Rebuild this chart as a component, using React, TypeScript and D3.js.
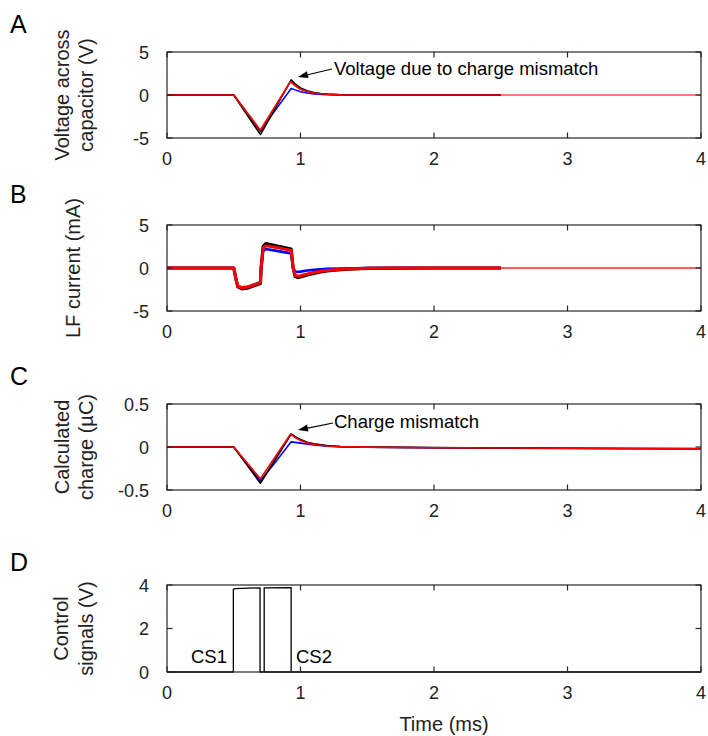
import React from 'react';
import * as d3 from 'd3';

type Pt = [number, number];

// Shared time axis (ms)
const timeTicks = [0, 1, 2, 3, 4];

// A: voltage across capacitor (V)
const voltageTicks = [-5, 0, 5];
const voltageBlack: Pt[] = [[0, 0], [0.5, 0], [0.7, -4.6], [0.93, 1.75], [0.96, 1.3], [1.0, 0.82], [1.05, 0.5], [1.1, 0.3], [1.15, 0.18], [1.2, 0.1], [1.3, 0.03], [1.5, 0], [2.5, 0]];
const voltageBlue: Pt[] = [[0, 0], [0.5, 0], [0.7, -4.25], [0.8, -2.0], [0.93, 0.75], [0.96, 0.6], [1.0, 0.38], [1.05, 0.22], [1.1, 0.12], [1.2, 0.04], [1.3, 0.01], [1.5, 0], [2.5, 0]];
const voltageRed: Pt[] = [[0, 0], [0.5, 0], [0.7, -4.1], [0.925, 1.55], [0.96, 1.1], [1.0, 0.66], [1.05, 0.4], [1.1, 0.24], [1.15, 0.14], [1.2, 0.08], [1.3, 0.02], [1.5, 0], [2.5, 0]];
const voltageRedLong: Pt[] = [...voltageRed, [4, 0]];

// B: LF current (mA)
const currentTicks = [-5, 0, 5];
const currentBlack: Pt[] = [[0, 0], [0.5, 0], [0.515, -1.2], [0.53, -2.2], [0.56, -2.42], [0.6, -2.35], [0.7, -1.8], [0.705, 0], [0.72, 2.5], [0.74, 2.85], [0.8, 2.65], [0.93, 2.2], [0.945, 0], [0.96, -1.0], [0.98, -1.12], [1.0, -1.05], [1.05, -0.82], [1.1, -0.62], [1.15, -0.47], [1.2, -0.35], [1.3, -0.19], [1.4, -0.1], [1.5, -0.05], [1.7, -0.01], [2.0, 0], [2.5, 0]];
const currentBlue: Pt[] = [[0, 0], [0.5, 0], [0.515, -1.1], [0.53, -2.05], [0.56, -2.25], [0.6, -2.2], [0.7, -1.65], [0.705, 0], [0.72, 2.0], [0.74, 2.2], [0.8, 2.05], [0.93, 1.7], [0.945, 0], [0.96, -0.4], [0.98, -0.45], [1.0, -0.42], [1.05, -0.3], [1.1, -0.22], [1.15, -0.15], [1.2, -0.1], [1.3, -0.05], [1.5, -0.01], [2.0, 0], [2.5, 0]];
const currentRed: Pt[] = [[0, 0], [0.5, 0], [0.515, -1.15], [0.53, -2.1], [0.56, -2.3], [0.6, -2.25], [0.7, -1.7], [0.705, 0], [0.72, 2.3], [0.74, 2.6], [0.8, 2.45], [0.93, 2.05], [0.945, 0], [0.96, -0.85], [0.98, -0.95], [1.0, -0.9], [1.05, -0.7], [1.1, -0.52], [1.15, -0.39], [1.2, -0.29], [1.3, -0.15], [1.4, -0.08], [1.5, -0.04], [1.7, -0.01], [2.0, 0], [2.5, 0]];
const currentRedLong: Pt[] = [...currentRed, [4, 0]];

// C: calculated charge (µC)
const chargeTicks = [-0.5, 0, 0.5];
const chargeBlack: Pt[] = [[0, 0], [0.5, 0], [0.7, -0.42], [0.93, 0.15], [0.96, 0.12], [1.0, 0.085], [1.05, 0.055], [1.1, 0.035], [1.2, 0.015], [1.3, 0.005], [1.5, -0.002], [2.0, -0.008], [2.5, -0.012], [3.0, -0.015], [3.5, -0.018], [4.0, -0.02]];
const chargeBlue: Pt[] = [[0, 0], [0.5, 0], [0.7, -0.39], [0.8, -0.2], [0.93, 0.06], [1.0, 0.045], [1.1, 0.025], [1.2, 0.01], [1.3, 0.003], [1.5, -0.002], [2.0, -0.008], [2.5, -0.012], [3.0, -0.015], [3.5, -0.018], [4.0, -0.02]];
const chargeRed: Pt[] = [[0, 0], [0.5, 0], [0.7, -0.37], [0.925, 0.15], [0.96, 0.11], [1.0, 0.075], [1.05, 0.048], [1.1, 0.03], [1.2, 0.012], [1.3, 0.004], [1.5, -0.002], [2.0, -0.008], [2.5, -0.012], [3.0, -0.015], [3.5, -0.018], [4.0, -0.02]];

// D: control signals (V)
const controlTicks = [0, 2, 4];
const controlCS1: Pt[] = [[0, 0], [0.497, 0], [0.497, 3.8], [0.51, 3.83], [0.697, 3.87], [0.697, 0], [4, 0]];
const controlCS2: Pt[] = [[0.728, 0], [0.728, 3.87], [0.93, 3.88], [0.93, 0]];

const FONT = '"Liberation Sans", Arial, sans-serif';
const AXIS = '#262626';

type Series = { data: Pt[]; color: string; width: number; opacity?: number };

type PanelProps = {
  letter: string;
  letterY: number;
  top: number;
  bottom: number;
  yDomain: [number, number];
  yTicks: number[];
  yLabel: string[];
  labelX: number[];
  series: Series[];
  tickFormat?: (v: number) => string;
  children?: React.ReactNode;
};

const X0 = 167;
const X1 = 701;
const x = d3.scaleLinear().domain([0, 4]).range([X0, X1]);
const TICK = 5.5;

function Panel(p: PanelProps) {
  const y = d3.scaleLinear().domain(p.yDomain).range([p.bottom, p.top]);
  const line = d3.line<Pt>().x(d => x(d[0])).y(d => y(d[1]));
  const midY = (p.top + p.bottom) / 2;
  const fmt = p.tickFormat ?? ((v: number) => String(v));
  return (
    <g>
      <text x={10} y={p.letterY} fontSize={25} fontFamily={FONT} fill="#000">{p.letter}</text>
      {p.yLabel.map((s, i) => (
        <text key={i} transform={`translate(${p.labelX[i]},${midY}) rotate(-90)`} textAnchor="middle"
          fontSize={20} fontFamily={FONT} fill="#222">{s}</text>
      ))}
      <clipPath id={`clip-${p.letter}`}>
        <rect x={X0} y={p.top - 2} width={X1 - X0} height={p.bottom - p.top + 4} />
      </clipPath>
      <g clipPath={`url(#clip-${p.letter})`}>
        {p.series.map((s, i) => (
          <path key={i} d={line(s.data) ?? ''} fill="none" stroke={s.color} strokeWidth={s.width}
            strokeOpacity={s.opacity ?? 1} strokeLinejoin="round" strokeLinecap="butt" />
        ))}
      </g>
      <rect x={X0} y={p.top} width={X1 - X0} height={p.bottom - p.top} fill="none" stroke={AXIS} strokeWidth={1.2} />
      {timeTicks.map(t => (
        <g key={t}>
          <line x1={x(t)} x2={x(t)} y1={p.bottom} y2={p.bottom - TICK} stroke={AXIS} strokeWidth={1.2} />
          <line x1={x(t)} x2={x(t)} y1={p.top} y2={p.top + TICK} stroke={AXIS} strokeWidth={1.2} />
          <text x={x(t)} y={p.bottom + 27} textAnchor="middle" fontSize={18} fontFamily={FONT} fill="#222">{t}</text>
        </g>
      ))}
      {p.yTicks.map(v => (
        <g key={v}>
          <line x1={X0} x2={X0 + TICK} y1={y(v)} y2={y(v)} stroke={AXIS} strokeWidth={1.2} />
          <line x1={X1} x2={X1 - TICK} y1={y(v)} y2={y(v)} stroke={AXIS} strokeWidth={1.2} />
          <text x={149} y={y(v) + 6.5} textAnchor="end" fontSize={18} fontFamily={FONT} fill="#222">{fmt(v)}</text>
        </g>
      ))}
      {p.children}
    </g>
  );
}

function Arrow({ x1, y1, x2, y2 }: { x1: number; y1: number; x2: number; y2: number }) {
  const ang = Math.atan2(y2 - y1, x2 - x1);
  const len = 10;
  const half = 3.5;
  const bx = x2 - len * Math.cos(ang);
  const by = y2 - len * Math.sin(ang);
  const px = -Math.sin(ang) * half;
  const py = Math.cos(ang) * half;
  return (
    <g>
      <line x1={x1} y1={y1} x2={bx} y2={by} stroke="#000" strokeWidth={1.2} />
      <path d={`M${x2},${y2}L${bx + px},${by + py}L${bx - px},${by - py}Z`} fill="#000" />
    </g>
  );
}

export default function App() {
  return (
    <svg width={708} height={736} style={{ position: 'absolute', left: 0, top: 0, background: '#fff' }}>
      <Panel letter="A" letterY={33} top={52} bottom={138} yDomain={[-5, 5]} yTicks={voltageTicks}
        yLabel={['Voltage across', 'capacitor (V)']} labelX={[69, 93]}
        series={[
          { data: voltageRedLong, color: '#ff0000', width: 1.5, opacity: 0.7 },
          { data: voltageBlue, color: '#0000ff', width: 1.5 },
          { data: voltageBlack, color: '#000000', width: 1.6 },
          { data: voltageRed, color: '#ff0000', width: 1.6 },
        ]}>
        <Arrow x1={332} y1={69} x2={298} y2={77} />
        <text x={334} y={75} fontSize={18.5} fontFamily={FONT} fill="#000">Voltage due to charge mismatch</text>
      </Panel>
      <Panel letter="B" letterY={203} top={225} bottom={311} yDomain={[-5, 5]} yTicks={currentTicks}
        yLabel={['LF current (mA)']} labelX={[80]}
        series={[
          { data: currentRedLong, color: '#ff0000', width: 2, opacity: 0.65 },
          { data: currentBlack, color: '#000000', width: 3.2 },
          { data: currentBlue, color: '#0000ff', width: 2.6 },
          { data: currentRed, color: '#ff0000', width: 3 },
        ]} />
      <Panel letter="C" letterY={385} top={404} bottom={490} yDomain={[-0.5, 0.5]} yTicks={chargeTicks}
        yLabel={['Calculated', 'charge (µC)']} labelX={[69, 93]}
        series={[
          { data: chargeBlue, color: '#0000ff', width: 1.6 },
          { data: chargeBlack, color: '#000000', width: 1.8 },
          { data: chargeRed, color: '#ff0000', width: 1.6 },
        ]}>
        <Arrow x1={333} y1={423} x2={298} y2={430} />
        <text x={334} y={428} fontSize={18.5} fontFamily={FONT} fill="#000">Charge mismatch</text>
      </Panel>
      <Panel letter="D" letterY={571} top={585} bottom={672} yDomain={[0, 4]} yTicks={controlTicks}
        yLabel={['Control', 'signals (V)']} labelX={[68, 93]}
        series={[
          { data: controlCS1, color: '#000000', width: 1.3 },
          { data: controlCS2, color: '#000000', width: 1.3 },
        ]}>
        <text x={227} y={663} textAnchor="end" fontSize={18.5} fontFamily={FONT} fill="#000">CS1</text>
        <text x={296} y={663} fontSize={18.5} fontFamily={FONT} fill="#000">CS2</text>
      </Panel>
      <text x={444} y={731} textAnchor="middle" fontSize={20} fontFamily={FONT} fill="#222">Time (ms)</text>
    </svg>
  );
}
